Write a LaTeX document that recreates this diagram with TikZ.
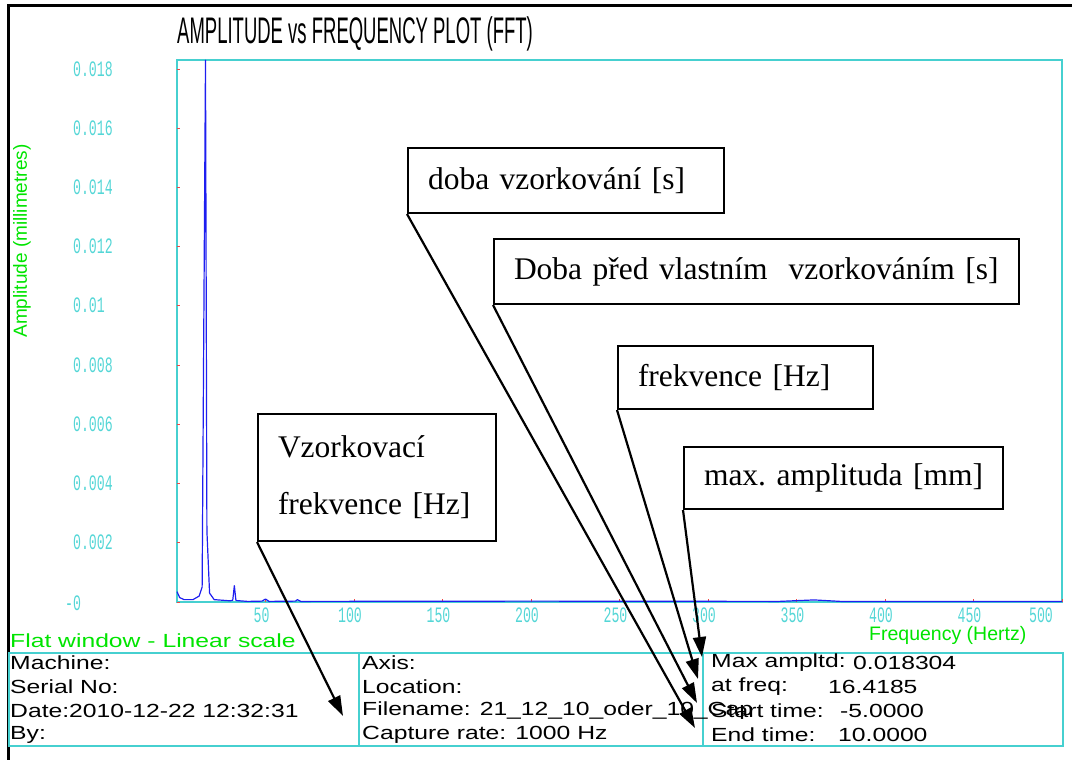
\documentclass[tikz,border=0pt]{standalone}
\usepackage{fontspec}
\setmainfont{Liberation Serif}
\newfontfamily\titlefont[FakeStretch=0.5]{Liberation Sans}
\newfontfamily\infofont[FakeStretch=1.3]{Liberation Sans}
\newfontfamily\greenfont{Liberation Sans}
\newfontfamily\tickfont[FakeStretch=0.6]{Liberation Mono}
\usetikzlibrary{arrows.meta}

\definecolor{plotcyan}{RGB}{70,208,208}
\definecolor{tickcyan}{RGB}{84,214,214}
\definecolor{labelgreen}{RGB}{0,228,0}
\definecolor{curveblue}{RGB}{30,30,240}
\definecolor{tickred}{RGB}{240,70,70}

\tikzset{
  callout/.style={draw,line width=2pt,anchor=north west,align=left,
    inner xsep=20pt,inner ysep=0pt,font=\fontsize{31.5}{57}\selectfont,
    execute at begin node=\frenchspacing},
  pointer/.style={line width=2.2pt,-{Triangle[length=20pt,width=13pt]}},
  info/.style={anchor=west,inner sep=0pt,font=\infofont\fontsize{19}{19}\selectfont},
  ytick/.style={anchor=west,inner sep=0pt,text=tickcyan,text height=14pt,text depth=0pt,
    font=\tickfont\fontsize{22}{22}\selectfont},
  xtick/.style={inner sep=0pt,text=tickcyan,text height=14pt,text depth=0pt,
    font=\tickfont\fontsize{22}{22}\selectfont},
  greenlabel/.style={inner sep=0pt,text=labelgreen,font=\greenfont\fontsize{19}{19}\selectfont}
}

\begin{document}
\begin{tikzpicture}[x=1pt,y=-1pt]
\useasboundingbox (0,0) rectangle (1077,760);

% frame
\draw[line width=3pt] (8,760) -- (8,6) -- (1072,6);

\node[anchor=west,inner sep=0pt,font=\titlefont\fontsize{37}{37}\selectfont] (title) at (177,34) {AMPLITUDE vs FREQUENCY PLOT (FFT)};

% plot area, x in Hz, y in 0.001 mm
\begin{scope}[shift={(177,602)},x=1.77pt,y=29.61pt]
\draw[plotcyan,line width=1.5pt] (0,0) rectangle (500,18.31);
\foreach \a in {0,2,...,18}
  \draw[tickred,line width=1pt] (0,\a) -- ++(3pt,0);
\foreach \f in {50,100,...,500}
  \draw[tickred,line width=1pt] (\f,0) -- ++(0,3pt);
\foreach \a/\lab in {2/0.002,4/0.004,6/0.006,8/0.008,10/0.01,12/0.012,14/0.014,16/0.016,18/0.018}
  \node[ytick] (y\a) at (-58.8,\a) {\lab};
\foreach \f in {50,100,...,450}
  \node[xtick,xshift=-4pt,yshift=-13pt] (x\f) at (\f,0) {\f};
\node[xtick,xshift=-21pt,yshift=-13pt] (x500) at (500,0) {500};
\draw[curveblue,line width=1.2pt,line join=round] plot coordinates {
  (0,0.35) (1.5,0.15) (4,0.08) (9,0.08) (12.5,0.2) (14.2,0.5) (16.1,18.3)
  (16.9,2.4) (18.4,0.3) (21,0.08) (30,0.04) (31.5,0.06) (32.4,0.55) (33.3,0.05)
  (40,0.02) (48,0.03) (50,0.1) (52,0.02) (67,0.03) (68,0.08) (70,0.02)
  (200,0.03) (340,0.02) (360,0.07) (375,0.02) (500,0.02)};
\end{scope}
\node[ytick] (y0) at (65,603) {-0};

\node[greenlabel,rotate=90] (ylabel) at (22,241) {Amplitude (millimetres)};
\node[greenlabel,anchor=west,font=\greenfont\fontsize{19.5}{19.5}\selectfont] (xlabel) at (869,635) {Frequency (Hertz)};
\node[greenlabel,anchor=west,font=\infofont\fontsize{19}{19}\selectfont] (window) at (10,641) {Flat window - Linear scale};

% info table
\draw[plotcyan,line width=1.5pt] (9,653) rectangle (1063,746);
\draw[plotcyan,line width=1.5pt] (359,653) -- (359,746);
\draw[plotcyan,line width=1.5pt] (703,653) -- (703,746);

\node[info] (machine) at (10,663) {Machine:};
\node[info] (serial) at (10,687) {Serial No:};
\node[info] (date) at (10,711) {Date:2010-12-22 12:32:31};
\node[info] (by) at (10,735) {By:};

\node[info] (axis) at (362,663) {Axis:};
\node[info] (location) at (362,687) {Location:};
\node[info] (filename) at (362,711) {Filename: 21\_12\_10\_oder\_10\_Cap};
\node[info] (rate) at (362,735) {Capture rate: 1000 Hz};

\node[info] (maxamp) at (711,663) {Max ampltd:};
\node[info] (maxampv) at (853,663) {0.018304};
\node[info] (atfreq) at (711,687) {at freq:};
\node[info] (atfreqv) at (828,687) {16.4185};
\node[info] (start) at (711,711) {Start time:};
\node[info] (startv) at (840,711) {-5.0000};
\node[info] (end) at (711,735) {End time:};
\node[info] (endv) at (838,735) {10.0000};

% callouts
\node[callout,text width=276pt,minimum height=65pt] (vzork) at (407,147) {\mbox{doba vzorkování [s]}};
\node[callout,text width=485pt,minimum height=65pt] (pred) at (493,238) {\mbox{Doba před vlastním\ \ vzorkováním [s]}};
\node[callout,text width=215pt,minimum height=63pt] (frekv) at (617,345) {\mbox{frekvence [Hz]}};
\node[callout,text width=279pt,minimum height=62pt] (ampl) at (683,446) {\mbox{max. amplituda [mm]}};
\node[callout,text width=198pt,minimum height=127pt] (vfrekv) at (257,413) {Vzorkovací\\frekvence [Hz]};

\coordinate (tipmax) at (702,657);
\coordinate (tipfreq) at (698,679);
\coordinate (tipstart) at (697,703);
\coordinate (tipend) at (695,728);
\coordinate (tiprate) at (343,716);

\draw[pointer] (ampl.south west) -- (tipmax);
\draw[pointer] (frekv.south west) -- (tipfreq);
\draw[pointer] (pred.south west) -- (tipstart);
\draw[pointer] (vzork.south west) -- (tipend);
\draw[pointer] (vfrekv.south west) -- (tiprate);
\end{tikzpicture}
\end{document}
